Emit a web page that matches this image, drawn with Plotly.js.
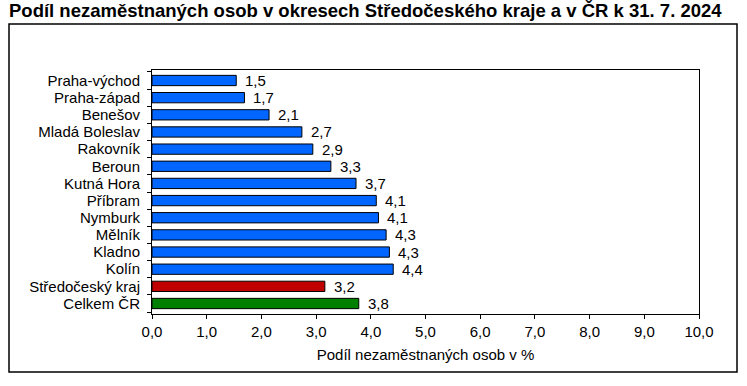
<!DOCTYPE html>
<html>
<head>
<meta charset="utf-8">
<script src="https://cdn.plot.ly/plotly-3.0.1.min.js"></script>
<style>html,body{margin:0;padding:0;background:#fff;}#chart{width:747px;height:386px;}</style>
</head>
<body>
<div id="chart"></div>
<script>
const categories = ["Praha-východ","Praha-západ","Benešov","Mladá Boleslav","Rakovník","Beroun","Kutná Hora","Příbram","Nymburk","Mělník","Kladno","Kolín","Středočeský kraj","Celkem ČR"];
const values = [1.54,1.69,2.14,2.74,2.94,3.27,3.73,4.10,4.14,4.28,4.34,4.41,3.16,3.78];
const barColors = ["#0066FF","#0066FF","#0066FF","#0066FF","#0066FF","#0066FF","#0066FF","#0066FF","#0066FF","#0066FF","#0066FF","#0066FF","#C00000","#008000"];
const xTicks = [0,1,2,3,4,5,6,7,8,9,10];
const titleText = "Podíl nezaměstnaných osob v okresech Středočeského kraje a v ČR k 31. 7. 2024";
const xTitle = "Podíl nezaměstnaných osob v %";

const font = "Liberation Sans, Arial, sans-serif";
const fmt = v => v.toFixed(1).replace('.', ',');

const W = 747, H = 386, ml = 152, mr = 48, mt = 70, mb = 72;
const pw = W - ml - mr, ph = H - mt - mb;
const px = x => (x - ml) / pw;
const py = y => (H - mb - y) / ph;

const trace = {
  type: 'bar', orientation: 'h',
  x: values, y: categories,
  marker: {color: barColors, line: {color: '#000', width: 1}},
  width: 0.6,
  hoverinfo: 'none'
};

const annotations = values.map((v, i) => ({
  x: v, y: categories[i], xref: 'x', yref: 'y',
  text: fmt(v), showarrow: false, xanchor: 'left', yanchor: 'middle',
  xshift: 7, font: {family: font, size: 15, color: '#000'}
}));

const layout = {
  width: W, height: H,
  margin: {l: ml, r: mr, t: mt, b: mb, pad: 0},
  paper_bgcolor: '#fff', plot_bgcolor: '#fff',
  separators: ', ',
  showlegend: false,
  title: {text: '<b>' + titleText + '</b>', x: 0, xref: 'container', xanchor: 'left',
          y: 1, yref: 'container', yanchor: 'top', pad: {t: 4, l: 9},
          font: {family: font, size: 18.5, color: '#000'}},
  xaxis: {
    range: [0, 10], tickvals: xTicks, tickformat: '.1f',
    ticks: 'outside', ticklen: 4, tickcolor: '#000',
    showline: true, linecolor: '#000', linewidth: 1, mirror: true,
    showgrid: false, zeroline: false,
    tickfont: {family: font, size: 15, color: '#000'},
    title: {text: xTitle, font: {family: font, size: 15, color: '#000'}, standoff: 10},
    fixedrange: true
  },
  yaxis: {
    type: 'category', autorange: 'reversed',
    tickmode: 'array', tickvals: categories, ticktext: categories,
    ticks: 'outside', ticklen: 4, tickcolor: '#000', tickson: 'boundaries',
    showline: true, linecolor: '#000', linewidth: 1, mirror: true,
    showgrid: false, zeroline: false,
    tickfont: {family: font, size: 15, color: '#000'},
    ticklabelstandoff: 8,
    fixedrange: true
  },
  annotations: annotations,
  shapes: [{
    type: 'rect', xref: 'paper', yref: 'paper',
    x0: px(9), x1: px(737), y0: py(372), y1: py(24),
    line: {color: '#000', width: 1.5}, fillcolor: 'rgba(0,0,0,0)', layer: 'below'
  }]
};

Plotly.newPlot('chart', [trace], layout, {staticPlot: true, displayModeBar: false});
</script>
</body>
</html>
